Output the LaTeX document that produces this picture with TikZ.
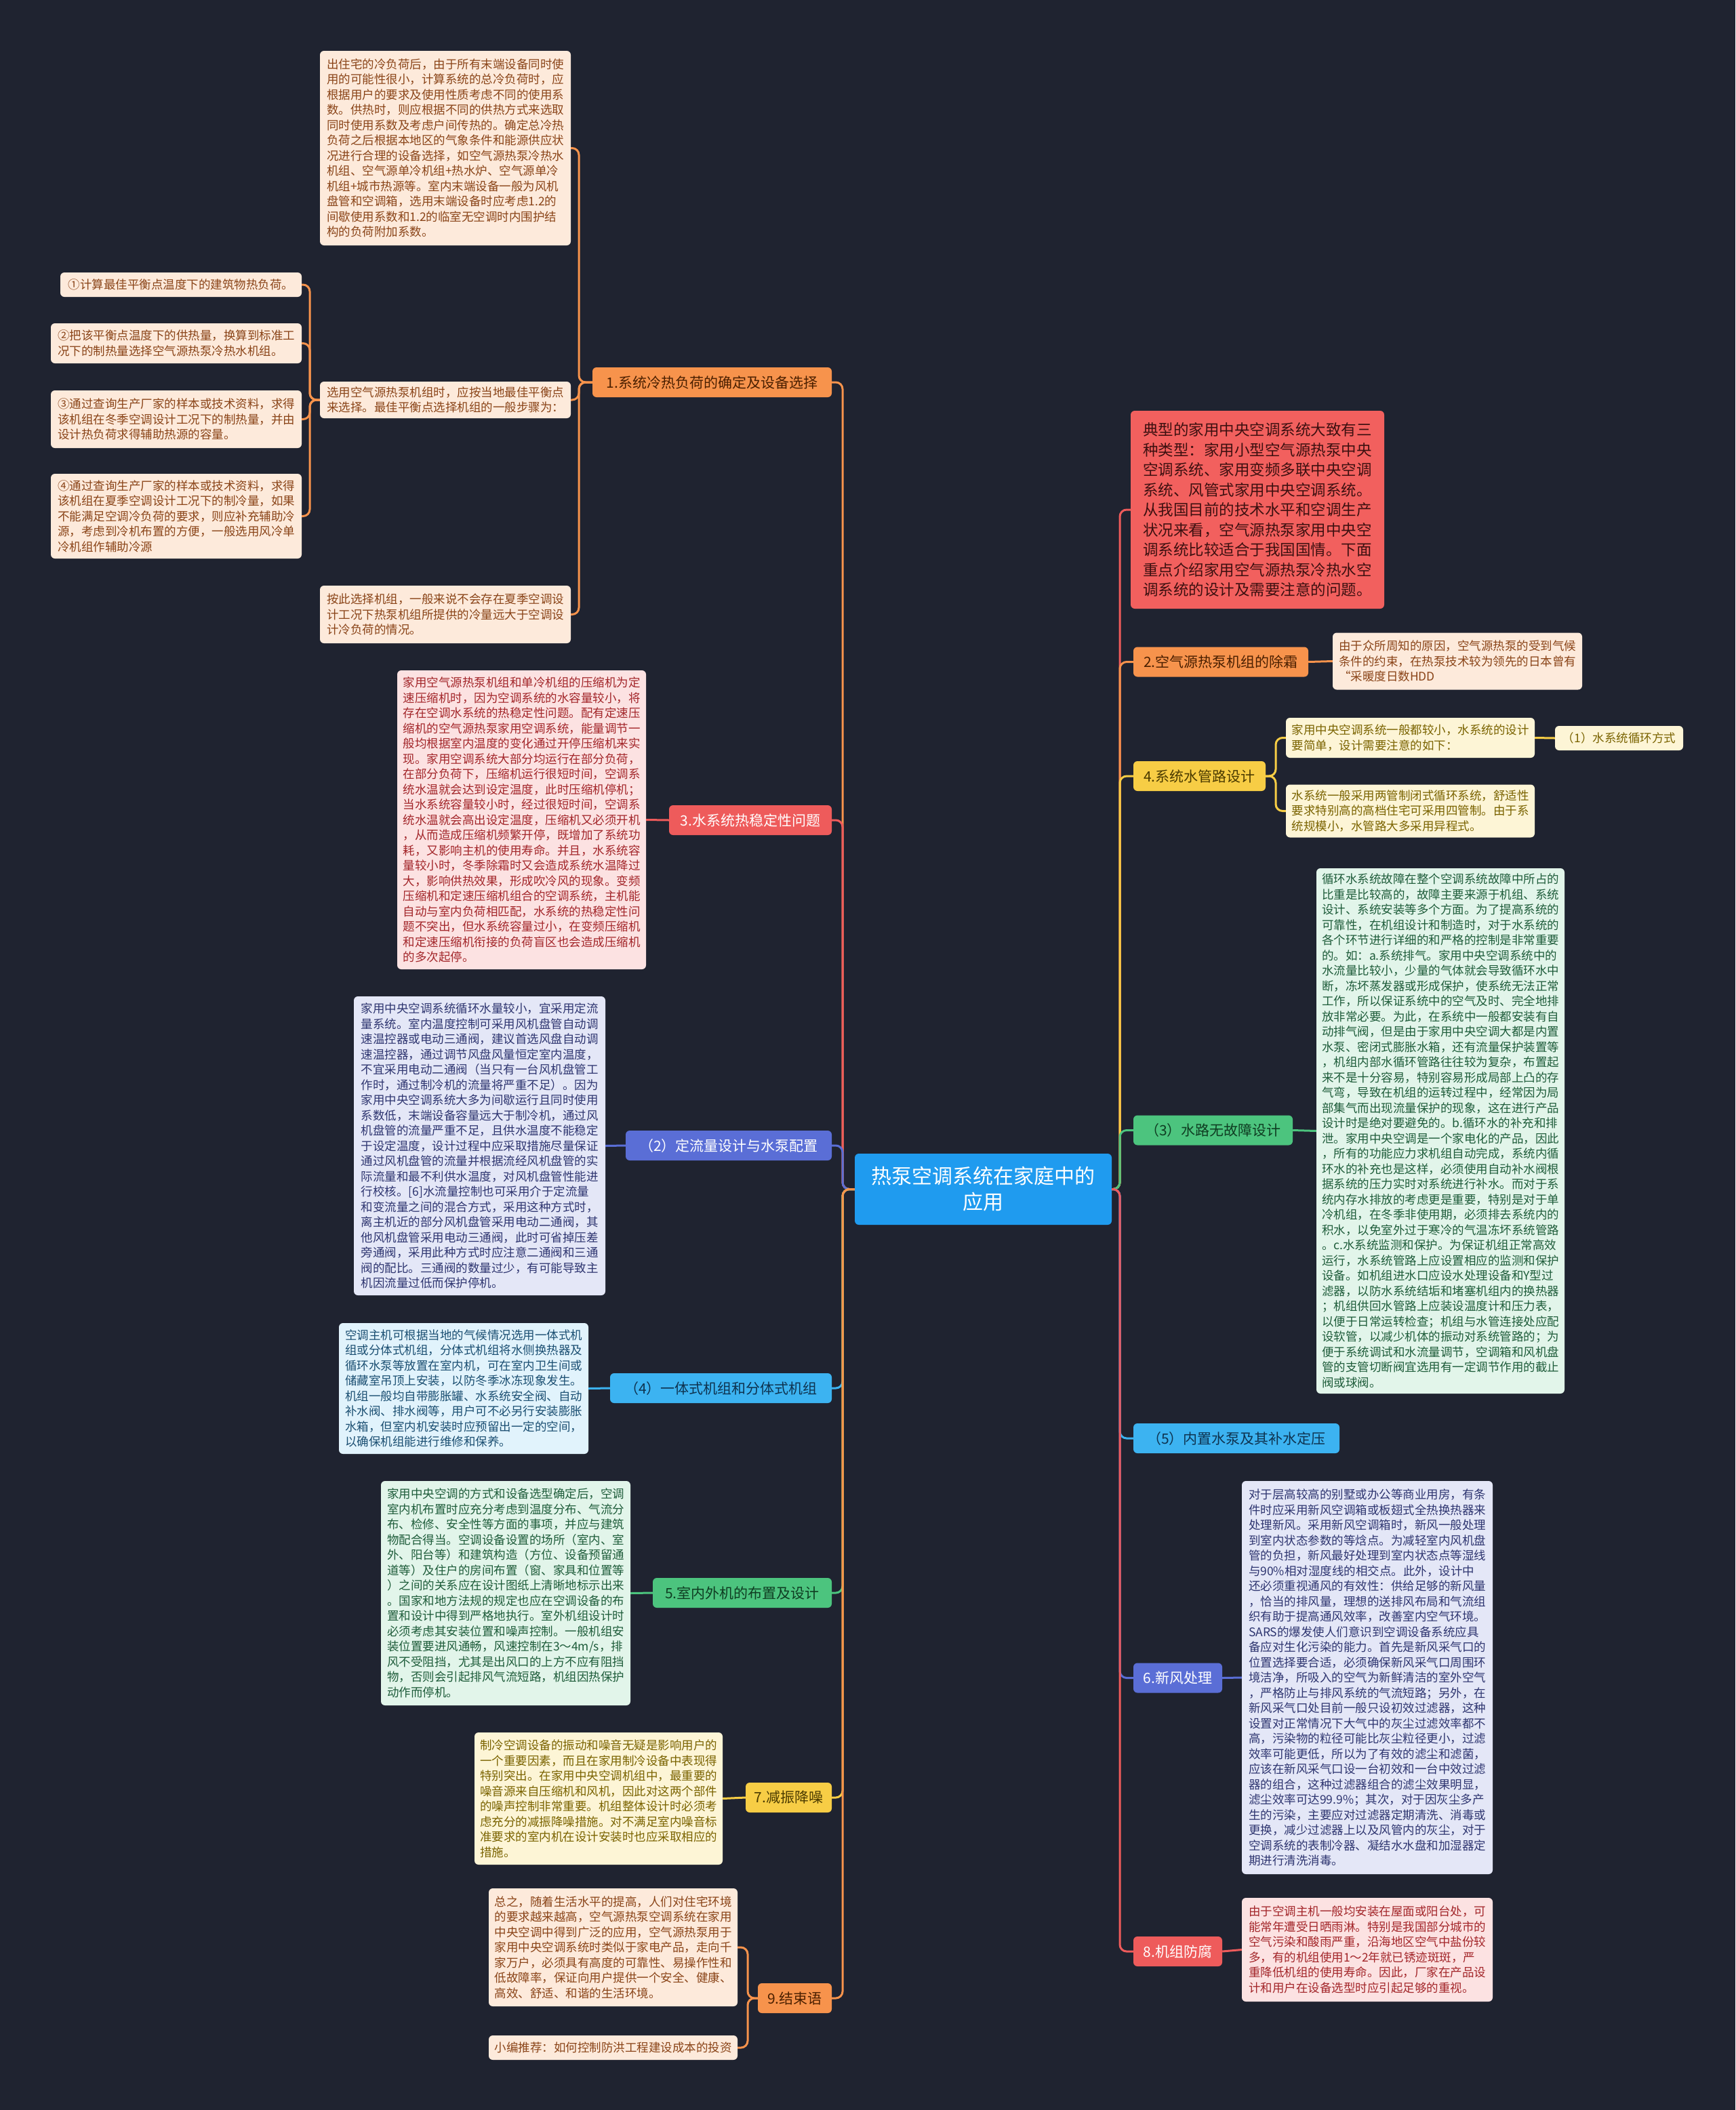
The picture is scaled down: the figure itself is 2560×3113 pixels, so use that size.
\documentclass[tikz,border=0pt]{standalone}
\usepackage{fontspec}
\newfontfamily\cjk{Noto Sans CJK SC}
\definecolor{bgc}{HTML}{1F2330}
\definecolor{ctrc}{HTML}{1F9BEF}
\definecolor{corg}{HTML}{F7934C}
\definecolor{cred}{HTML}{EE5B5B}
\definecolor{cind}{HTML}{5A6ED6}
\definecolor{cblu}{HTML}{3CB3F1}
\definecolor{cgrn}{HTML}{4CC47E}
\definecolor{cyel}{HTML}{F7CD45}
\definecolor{forg}{HTML}{FDEADB}\definecolor{torg}{HTML}{8A4418}
\definecolor{fred}{HTML}{FCE2E2}\definecolor{tred}{HTML}{A3262A}
\definecolor{find}{HTML}{E4E7F7}\definecolor{tind}{HTML}{2E3570}
\definecolor{fblu}{HTML}{E1F3FC}\definecolor{tblu}{HTML}{1B4F72}
\definecolor{fgrn}{HTML}{E2F5EA}\definecolor{tgrn}{HTML}{1E5C3A}
\definecolor{fyel}{HTML}{FDF5D6}\definecolor{tyel}{HTML}{7A6300}
\definecolor{lorg}{HTML}{4A1F00}
\definecolor{lgrn}{HTML}{0F3D22}
\definecolor{lyel}{HTML}{4A3A00}
\definecolor{lblu}{HTML}{0E3350}
\definecolor{rbox}{HTML}{F2605E}\definecolor{rtxt}{HTML}{3D1010}
\tikzset{
  box/.style={rounded corners=6pt, inner sep=0pt, align=left, font=\cjk\fontsize{17.5}{22.5}\selectfont},
  lbl/.style={rounded corners=6pt, inner sep=0pt, font=\cjk\fontsize{21}{26}\selectfont, minimum height=44pt},
  link/.style={line width=3pt, rounded corners=10pt},
  ob/.style={box, fill=forg, text=torg},
  rb/.style={box, fill=fred, text=tred},
  ib/.style={box, fill=find, text=tind},
  bb/.style={box, fill=fblu, text=tblu},
  gb/.style={box, fill=fgrn, text=tgrn},
  yb/.style={box, fill=fyel, text=tyel},
}
\begin{document}
\begin{tikzpicture}[x=1pt,y=-1pt]
\fill[bgc] (0,0) rectangle (2560,3113);
\useasboundingbox (0,0) rectangle (2560,3113);

% center
\node[rounded corners=6pt, fill=ctrc, text=white, align=center, minimum width=379pt, minimum height=105pt, font=\cjk\fontsize{30}{38}\selectfont] (ctr) at (1450.5,1754.5) {热泵空调系统在家庭中的\\应用};

% left labels
\node[lbl, fill=corg, text=lorg, minimum width=353pt] (b1) at (1050.5,564) {1.系统冷热负荷的确定及设备选择};
\node[lbl, fill=cred, text=white, minimum width=240pt] (b3) at (1107,1210) {3.水系统热稳定性问题};
\node[lbl, fill=cind, text=white, minimum width=304pt] (b2) at (1075,1690) {（2）定流量设计与水泵配置};
\node[lbl, fill=cblu, text=lblu, minimum width=327pt] (b4l) at (1063.5,2048) {（4）一体式机组和分体式机组};
\node[lbl, fill=cgrn, text=lgrn, minimum width=264pt] (b5) at (1095,2350) {5.室内外机的布置及设计};
\node[lbl, fill=cyel, text=lyel, minimum width=127pt] (b7) at (1163.5,2652) {7.减振降噪};
\node[lbl, fill=corg, text=lorg, minimum width=109pt] (b9) at (1172.5,2948) {9.结束语};

% right labels
\node[rounded corners=6pt, inner sep=0pt, fill=rbox, text=rtxt, align=left, minimum width=374pt, minimum height=292pt, font=\cjk\fontsize{22.5}{29.5}\selectfont] (rb) at (1855,752) {典型的家用中央空调系统大致有三\\种类型：家用小型空气源热泵中央\\空调系统、家用变频多联中央空调\\系统、风管式家用中央空调系统。\\从我国目前的技术水平和空调生产\\状况来看，空气源热泵家用中央空\\调系统比较适合于我国国情。下面\\重点介绍家用空气源热泵冷热水空\\调系统的设计及需要注意的问题。};
\node[lbl, fill=corg, text=lorg, minimum width=258pt] (b2r) at (1801,976.5) {2.空气源热泵机组的除霜};
\node[lbl, fill=cyel, text=lyel, minimum width=195pt] (b4r) at (1769.5,1145) {4.系统水管路设计};
\node[lbl, fill=cgrn, text=lgrn, minimum width=235pt] (b3r) at (1789.5,1667.5) {（3）水路无故障设计};
\node[lbl, fill=cblu, text=lblu, minimum width=304pt] (b5r) at (1824,2122) {（5）内置水泵及其补水定压};
\node[lbl, fill=cind, text=white, minimum width=131pt] (b6) at (1737.5,2475.5) {6.新风处理};
\node[lbl, fill=cred, text=white, minimum width=131pt] (b8) at (1737.5,2879) {8.机组防腐};

% left children
\node[ob, minimum width=370pt, minimum height=287pt] (A) at (657,218.5) {出住宅的冷负荷后，由于所有末端设备同时使\\用的可能性很小，计算系统的总冷负荷时，应\\根据用户的要求及使用性质考虑不同的使用系\\数。供热时，则应根据不同的供热方式来选取\\同时使用系数及考虑户间传热的。确定总冷热\\负荷之后根据本地区的气象条件和能源供应状\\况进行合理的设备选择，如空气源热泵冷热水\\机组、空气源单冷机组+热水炉、空气源单冷\\机组+城市热源等。室内末端设备一般为风机\\盘管和空调箱，选用末端设备时应考虑1.2的\\间歇使用系数和1.2的临室无空调时内围护结\\构的负荷附加系数。};
\node[ob, minimum width=370pt, minimum height=54pt] (B) at (657,590) {选用空气源热泵机组时，应按当地最佳平衡点\\来选择。最佳平衡点选择机组的一般步骤为：};
\node[ob, minimum width=356pt, minimum height=36pt] (S1) at (267,420) {①计算最佳平衡点温度下的建筑物热负荷。};
\node[ob, minimum width=370pt, minimum height=59pt] (S2) at (260,506.5) {②把该平衡点温度下的供热量，换算到标准工\\况下的制热量选择空气源热泵冷热水机组。};
\node[ob, minimum width=370pt, minimum height=85pt] (S3) at (260,618.5) {③通过查询生产厂家的样本或技术资料，求得\\该机组在冬季空调设计工况下的制热量，并由\\设计热负荷求得辅助热源的容量。};
\node[ob, minimum width=370pt, minimum height=125pt] (S4) at (260,761.5) {④通过查询生产厂家的样本或技术资料，求得\\该机组在夏季空调设计工况下的制冷量，如果\\不能满足空调冷负荷的要求，则应补充辅助冷\\源，考虑到冷机布置的方便，一般选用风冷单\\冷机组作辅助冷源};
\node[ob, minimum width=370pt, minimum height=85pt] (C) at (657,906.5) {按此选择机组，一般来说不会存在夏季空调设\\计工况下热泵机组所提供的冷量远大于空调设\\计冷负荷的情况。};
\node[rb, minimum width=367pt, minimum height=441pt] (T3) at (769.5,1209.5) {家用空气源热泵机组和单冷机组的压缩机为定\\速压缩机时，因为空调系统的水容量较小，将\\存在空调水系统的热稳定性问题。配有定速压\\缩机的空气源热泵家用空调系统，能量调节一\\般均根据室内温度的变化通过开停压缩机来实\\现。家用空调系统大部分均运行在部分负荷，\\在部分负荷下，压缩机运行很短时间，空调系\\统水温就会达到设定温度，此时压缩机停机；\\当水系统容量较小时，经过很短时间，空调系\\统水温就会高出设定温度，压缩机又必须开机\\，从而造成压缩机频繁开停，既增加了系统功\\耗，又影响主机的使用寿命。并且，水系统容\\量较小时，冬季除霜时又会造成系统水温降过\\大，影响供热效果，形成吹冷风的现象。变频\\压缩机和定速压缩机组合的空调系统，主机能\\自动与室内负荷相匹配，水系统的热稳定性问\\题不突出，但水系统容量过小，在变频压缩机\\和定速压缩机衔接的负荷盲区也会造成压缩机\\的多次起停。};
\node[ib, minimum width=371pt, minimum height=441pt] (T2) at (707.5,1690.5) {家用中央空调系统循环水量较小，宜采用定流\\量系统。室内温度控制可采用风机盘管自动调\\速温控器或电动三通阀，建议首选风盘自动调\\速温控器，通过调节风盘风量恒定室内温度，\\不宜采用电动二通阀（当只有一台风机盘管工\\作时，通过制冷机的流量将严重不足）。因为\\家用中央空调系统大多为间歇运行且同时使用\\系数低，末端设备容量远大于制冷机，通过风\\机盘管的流量严重不足，且供水温度不能稳定\\于设定温度，设计过程中应采取措施尽量保证\\通过风机盘管的流量并根据流经风机盘管的实\\际流量和最不利供水温度，对风机盘管性能进\\行校核。[6]水流量控制也可采用介于定流量\\和变流量之间的混合方式，采用这种方式时，\\离主机近的部分风机盘管采用电动二通阀，其\\他风机盘管采用电动三通阀，此时可省掉压差\\旁通阀，采用此种方式时应注意二通阀和三通\\阀的配比。三通阀的数量过少，有可能导致主\\机因流量过低而保护停机。};
\node[bb, minimum width=368pt, minimum height=193pt] (T4) at (684,2048.5) {空调主机可根据当地的气候情况选用一体式机\\组或分体式机组，分体式机组将水侧换热器及\\循环水泵等放置在室内机，可在室内卫生间或\\储藏室吊顶上安装，以防冬季冰冻现象发生。\\机组一般均自带膨胀罐、水系统安全阀、自动\\补水阀、排水阀等，用户可不必另行安装膨胀\\水箱，但室内机安装时应预留出一定的空间，\\以确保机组能进行维修和保养。};
\node[gb, minimum width=368pt, minimum height=331pt] (T5) at (746,2350.5) {家用中央空调的方式和设备选型确定后，空调\\室内机布置时应充分考虑到温度分布、气流分\\布、检修、安全性等方面的事项，并应与建筑\\物配合得当。空调设备设置的场所（室内、室\\外、阳台等）和建筑构造（方位、设备预留通\\道等）及住户的房间布置（窗、家具和位置等\\）之间的关系应在设计图纸上清晰地标示出来\\。国家和地方法规的规定也应在空调设备的布\\置和设计中得到严格地执行。室外机组设计时\\必须考虑其安装位置和噪声控制。一般机组安\\装位置要进风通畅，风速控制在3～4m/s，排\\风不受阻挡，尤其是出风口的上方不应有阻挡\\物，否则会引起排风气流短路，机组因热保护\\动作而停机。};
\node[yb, minimum width=366pt, minimum height=195pt] (T7) at (883,2653.5) {制冷空调设备的振动和噪音无疑是影响用户的\\一个重要因素，而且在家用制冷设备中表现得\\特别突出。在家用中央空调机组中，最重要的\\噪音源来自压缩机和风机，因此对这两个部件\\的噪声控制非常重要。机组整体设计时必须考\\虑充分的减振降噪措施。对不满足室内噪音标\\准要求的室内机在设计安装时也应采取相应的\\措施。};
\node[ob, minimum width=367pt, minimum height=174pt] (T9a) at (904.5,2873) {总之，随着生活水平的提高，人们对住宅环境\\的要求越来越高，空气源热泵空调系统在家用\\中央空调中得到广泛的应用，空气源热泵用于\\家用中央空调系统时类似于家电产品，走向千\\家万户，必须具有高度的可靠性、易操作性和\\低故障率，保证向用户提供一个安全、健康、\\高效、舒适、和谐的生活环境。};
\node[ob, minimum width=367pt, minimum height=36pt] (T9b) at (904.5,3021) {小编推荐：如何控制防洪工程建设成本的投资};

% right children
\node[ob, minimum width=368pt, minimum height=84pt] (R2c) at (2150,975.5) {由于众所周知的原因，空气源热泵的受到气候\\条件的约束，在热泵技术较为领先的日本曾有\\“采暖度日数HDD};
\node[yb, minimum width=367pt, minimum height=59pt] (R4a) at (2080.5,1088.5) {家用中央空调系统一般都较小，水系统的设计\\要简单，设计需要注意的如下：};
\node[yb, minimum width=189pt, minimum height=36pt] (R4a1) at (2388.5,1089) {（1）水系统循环方式};
\node[yb, minimum width=367pt, minimum height=78pt] (R4b) at (2080.5,1196.5) {水系统一般采用两管制闭式循环系统，舒适性\\要求特别高的高档住宅可采用四管制。由于系\\统规模小，水管路大多采用异程式。};
\node[gb, minimum width=366pt, minimum height=775pt] (R3c) at (2125,1668.5) {循环水系统故障在整个空调系统故障中所占的\\比重是比较高的，故障主要来源于机组、系统\\设计、系统安装等多个方面。为了提高系统的\\可靠性，在机组设计和制造时，对于水系统的\\各个环节进行详细的和严格的控制是非常重要\\的。如：a.系统排气。家用中央空调系统中的\\水流量比较小，少量的气体就会导致循环水中\\断，冻坏蒸发器或形成保护，使系统无法正常\\工作，所以保证系统中的空气及时、完全地排\\放非常必要。为此，在系统中一般都安装有自\\动排气阀，但是由于家用中央空调大都是内置\\水泵、密闭式膨胀水箱，还有流量保护装置等\\，机组内部水循环管路往往较为复杂，布置起\\来不是十分容易，特别容易形成局部上凸的存\\气弯，导致在机组的运转过程中，经常因为局\\部集气而出现流量保护的现象，这在进行产品\\设计时是绝对要避免的。b.循环水的补充和排\\泄。家用中央空调是一个家电化的产品，因此\\，所有的功能应力求机组自动完成，系统内循\\环水的补充也是这样，必须使用自动补水阀根\\据系统的压力实时对系统进行补水。而对于系\\统内存水排放的考虑更是重要，特别是对于单\\冷机组，在冬季非使用期，必须排去系统内的\\积水，以免室外过于寒冷的气温冻坏系统管路\\。c.水系统监测和保护。为保证机组正常高效\\运行，水系统管路上应设置相应的监测和保护\\设备。如机组进水口应设水处理设备和Y型过\\滤器，以防水系统结垢和堵塞机组内的换热器\\；机组供回水管路上应装设温度计和压力表，\\以便于日常运转检查；机组与水管连接处应配\\设软管，以减少机体的振动对系统管路的；为\\便于系统调试和水流量调节，空调箱和风机盘\\管的支管切断阀宜选用有一定调节作用的截止\\阀或球阀。};
\node[ib, minimum width=370pt, minimum height=580pt] (R6c) at (2017,2475) {对于层高较高的别墅或办公等商业用房，有条\\件时应采用新风空调箱或板翅式全热换热器来\\处理新风。采用新风空调箱时，新风一般处理\\到室内状态参数的等焓点。为减轻室内风机盘\\管的负担，新风最好处理到室内状态点等湿线\\与90\%相对湿度线的相交点。此外，设计中\\还必须重视通风的有效性：供给足够的新风量\\，恰当的排风量，理想的送排风布局和气流组\\织有助于提高通风效率，改善室内空气环境。\\SARS的爆发使人们意识到空调设备系统应具\\备应对生化污染的能力。首先是新风采气口的\\位置选择要合适，必须确保新风采气口周围环\\境洁净，所吸入的空气为新鲜清洁的室外空气\\，严格防止与排风系统的气流短路；另外，在\\新风采气口处目前一般只设初效过滤器，这种\\设置对正常情况下大气中的灰尘过滤效率都不\\高，污染物的粒径可能比灰尘粒径更小，过滤\\效率可能更低，所以为了有效的滤尘和滤菌，\\应该在新风采气口设一台初效和一台中效过滤\\器的组合，这种过滤器组合的滤尘效果明显，\\滤尘效率可达99.9\%；其次，对于因灰尘多产\\生的污染，主要应对过滤器定期清洗、消毒或\\更换，减少过滤器上以及风管内的灰尘，对于\\空调系统的表制冷器、凝结水水盘和加湿器定\\期进行清洗消毒。};
\node[rb, minimum width=370pt, minimum height=153pt] (R8c) at (2017,2876.5) {由于空调主机一般均安装在屋面或阳台处，可\\能常年遭受日晒雨淋。特别是我国部分城市的\\空气污染和酸雨严重，沿海地区空气中盐份较\\多，有的机组使用1～2年就已锈迹斑斑，严\\重降低机组的使用寿命。因此，厂家在产品设\\计和用户在设备选型时应引起足够的重视。};

% trunk connectors
\foreach \n/\c in {b1/corg, b3/cred, b2/cind, b4l/cblu, b5/cgrn, b7/cyel, b9/corg}
  \draw[link, \c] (ctr.west) -- (1243,1754.5) |- (\n.east);
\foreach \n/\c in {rb/cred, b2r/corg, b4r/cyel, b3r/cgrn, b5r/cblu, b6/cind, b8/cred}
  \draw[link, \c] (ctr.east) -- (1652,1754.5) |- (\n.west);

% left sub connectors
\foreach \n in {A, B, C}
  \draw[link, corg] (b1.west) -- (854,564) |- (\n.east);
\foreach \n in {S1, S2, S3, S4}
  \draw[link, corg] (B.west) -- (457,590) |- (\n.east);
\draw[link, cred] (b3.west) -- (T3.east);
\draw[link, cind] (b2.west) -- (T2.east);
\draw[link, cblu] (b4l.west) -- (T4.east);
\draw[link, cgrn] (b5.west) -- (T5.east);
\draw[link, cyel] (b7.west) -- (T7.east);
\foreach \n in {T9a, T9b}
  \draw[link, corg] (b9.west) -- (1103,2948) |- (\n.east);

% right sub connectors
\draw[link, corg] (b2r.east) -- (R2c.west);
\foreach \n in {R4a, R4b}
  \draw[link, cyel] (b4r.east) -- (1882,1145) |- (\n.west);
\draw[link, cyel] (R4a.east) -- (R4a1.west);
\draw[link, cgrn] (b3r.east) -- (R3c.west);
\draw[link, cind] (b6.east) -- (R6c.west);
\draw[link, cred] (b8.east) -- (R8c.west);
\end{tikzpicture}
\end{document}
